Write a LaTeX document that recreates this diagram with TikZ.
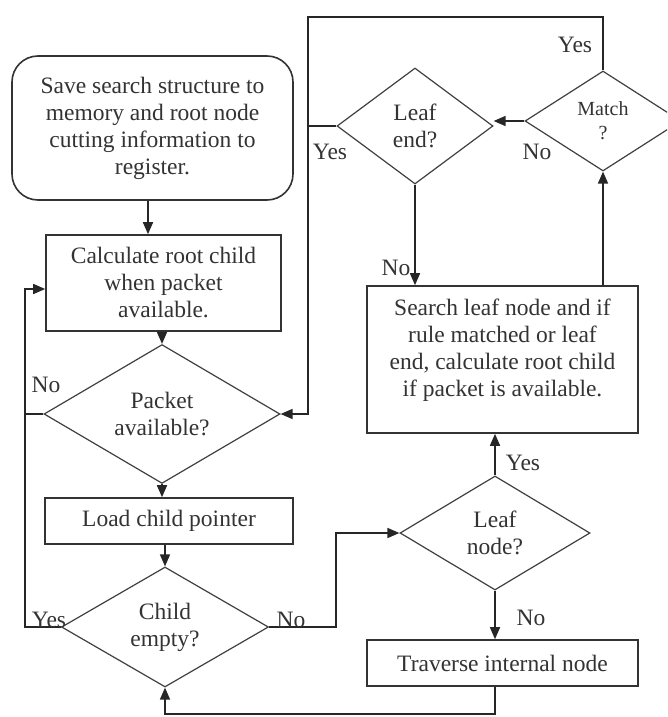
\documentclass[tikz,border=0pt]{standalone}
\usepackage{fontspec}
\setmainfont{Liberation Serif}
\usetikzlibrary{shapes.geometric,arrows.meta}

\begin{document}
\begin{tikzpicture}[x=1pt, y=-1pt,
  every node/.style={font=\fontsize{23.5}{27}\selectfont, text=black!80},
  box/.style={draw=black!80, line width=1.6pt, align=center, inner sep=0pt},
  decision/.style={diamond, draw=black!75, line width=1.2pt, align=center, inner sep=0pt},
  arr/.style={draw=black!85, line width=1.5pt, -{Triangle[length=12pt,width=10pt]}},
  wire/.style={draw=black!85, line width=1.5pt},
  lbl/.style={inner sep=0pt}]
  \clip (0,0) rectangle (667,717);
  \fill[white] (0,0) rectangle (667,717);

  % left column
  \node[box, rounded corners=26pt, minimum width=281pt, minimum height=144pt] (save) at (152.5,128)
    {Save search structure to\\memory and root node\\cutting information to\\register.};
  \node[box, minimum width=235pt, minimum height=96pt] (calc) at (163.5,283)
    {Calculate root child\\when packet\\available.};
  \node[decision, minimum width=236pt, minimum height=120pt] (packet) at (162,414) {Packet\\available?};
  \node[box, minimum width=248pt, minimum height=46pt] (load) at (169,521) {Load child pointer};
  \node[decision, minimum width=207pt, minimum height=120pt] (child) at (165,627) {Child\\empty?};

  % right column
  \node[decision, minimum width=156pt, minimum height=116pt] (leafend) at (415,126) {Leaf\\end?};
  \node[decision, minimum width=156pt, minimum height=100pt, font=\fontsize{20}{24}\selectfont] (match) at (603,121) {Match\\?};
  \node[box, minimum width=271pt, minimum height=147pt] (search) at (502.5,359.5) {};
  \node[align=center] (searchtxt) at ([yshift=9pt]search.center)
    {Search leaf node and if\\rule matched or leaf\\end, calculate root child\\if packet is available.};
  \node[decision, minimum width=190pt, minimum height=114pt] (leafnode) at (495,533) {Leaf\\node?};
  \node[box, minimum width=271pt, minimum height=46pt] (trav) at (502.5,663) {Traverse internal node};

  \coordinate (leftrail) at (25,0);
  \coordinate (midrail) at (336,0);
  \coordinate (topleft) at (308,17);

  % main flow
  \draw[arr] ([xshift=-4.5pt]save.south) -- ([xshift=-4.5pt]save.south |- calc.north);
  \draw[arr] (calc.south -| packet.north) -- (packet.north);
  \draw[arr] (packet.south) -- (packet.south |- load.north);
  \draw[arr] (load.south -| child.north) -- (child.north);

  % loops on the left
  \draw[arr] (packet.west) -- (packet.west -| leftrail) |- ([yshift=-6pt]calc.west);
  \draw[wire] (child.west) -- (child.west -| leftrail) -- (packet.west -| leftrail);
  \node[lbl] (no1) at (46,385) {No};
  \node[lbl] (yes1) at (49,620) {Yes};

  % child not empty
  \draw[arr] (child.east) -- (child.east -| midrail) |- (leafnode.west);
  \node[lbl] (no2) at (291,620) {No};

  \draw[arr] (leafnode.south) -- (leafnode.south |- trav.north);
  \node[lbl] (no3) at (531,618) {No};
  \draw[arr] (leafnode.north) -- (leafnode.north |- search.south);
  \node[lbl] (yes2) at (523,463) {Yes};

  \draw[arr] (search.north -| match.south) -- (match.south);
  \draw[arr] (match.west) -- (match.west -| leafend.east);
  \node[lbl] (no4) at (537,152) {No};
  \draw[arr] (leafend.south) -- (leafend.south |- search.north);
  \node[lbl] (no5) at (396,268) {No};

  % back to packet check
  \draw[arr] (match.north) |- (topleft) |- (packet.east);
  \node[lbl] (yes3) at (575,45) {Yes};
  \draw[wire] (leafend.west) -- (leafend.west -| topleft);
  \node[lbl] (yes4) at (330,152) {Yes};

  % back to child check
  \draw[arr] (trav.south -| leafnode.south) -- ++(0,27) -| (child.south);
\end{tikzpicture}
\end{document}
